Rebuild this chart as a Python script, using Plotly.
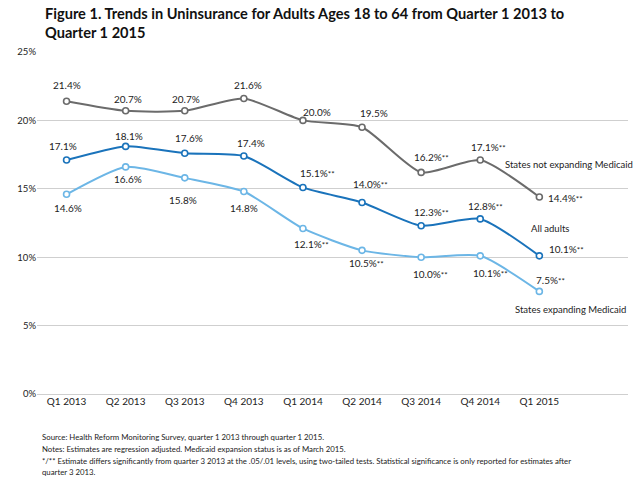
import plotly.graph_objects as go

# ── Data ──────────────────────────────────────────────────────────────────────
QUARTERS = ["Q1 2013", "Q2 2013", "Q3 2013", "Q4 2013", "Q1 2014",
            "Q2 2014", "Q3 2014", "Q4 2014", "Q1 2015"]

NOT_EXPANDING = [21.4, 20.7, 20.7, 21.6, 20.0, 19.5, 16.2, 17.1, 14.4]
ALL_ADULTS = [17.1, 18.1, 17.6, 17.4, 15.1, 14.0, 12.3, 12.8, 10.1]
EXPANDING = [14.6, 16.6, 15.8, 14.8, 12.1, 10.5, 10.0, 10.1, 7.5]

# significance flags ("**" = differs from Q3 2013 at .01)
NOT_EXPANDING_SIG = ["", "", "", "", "", "", "**", "**", "**"]
ALL_ADULTS_SIG = ["", "", "", "", "**", "**", "**", "**", "**"]
EXPANDING_SIG = ["", "", "", "", "**", "**", "**", "**", "**"]

SERIES_NAMES = ["States not expanding Medicaid", "All adults",
                "States expanding Medicaid"]

NOTES = [
    "Source: Health Reform Monitoring Survey, quarter 1 2013 through quarter 1 2015.",
    "Notes: Estimates are regression adjusted. Medicaid expansion status is as of March 2015.",
    "*/** Estimate differs significantly from quarter 3 2013 at the .05/.01 levels, using two-tailed tests. "
    "Statistical significance is only reported for estimates after",
    "quarter 3 2013.",
]

# ── Style ─────────────────────────────────────────────────────────────────────
FONT = "Lato"
TXT = "#222222"
GRAY = "#6b6b6b"
BLUE = "#1a73bb"
LIGHT = "#6cb6e6"

PLOT_TOP, PLOT_BOTTOM = 52, 394   # px of plot area in the 480px page


def paper_y(py):
    return (PLOT_BOTTOM - py) / (PLOT_BOTTOM - PLOT_TOP)


# label nudges in px (x = left edge rel. to point, y = centre rel. to point)
GRAY_DX = [-16, -14, -15, -12, -2, -4, -9, -11, 7]
GRAY_DY = [16, 12, 12, 14, 8, 14, 15, 13, -1]
BLUE_DX = [-20, -13, -12, -9, -5, -11, -9, -14, 8]
BLUE_DY = [14, 10, 15, 13, 14, 18, 14, 13, 7]
LIGHT_DX = [-15, -14, -18, -16, -11, -15, -10, -9, -5]
LIGHT_DY = [-14, -12, -22, -16, -16, -13, -17, -17, 11]

# where the series names sit (data coords)
NAME_X = [7.38, 7.82, 7.55]
NAME_Y = [16.8, 12.13, 6.2]

xs = list(range(len(QUARTERS)))

fig = go.Figure()

for vals, color, name in [(NOT_EXPANDING, GRAY, SERIES_NAMES[0]),
                          (ALL_ADULTS, BLUE, SERIES_NAMES[1]),
                          (EXPANDING, LIGHT, SERIES_NAMES[2])]:
    fig.add_trace(go.Scatter(
        x=xs, y=vals, mode="lines+markers", name=name,
        line=dict(color=color, width=2, shape="spline", smoothing=0.6),
        marker=dict(symbol="circle", size=6, color="white",
                    line=dict(color=color, width=1.6)),
        showlegend=False, hoverinfo="skip",
    ))

annotations = []
for vals, sig, dxs, dys in [(NOT_EXPANDING, NOT_EXPANDING_SIG, GRAY_DX, GRAY_DY),
                            (ALL_ADULTS, ALL_ADULTS_SIG, BLUE_DX, BLUE_DY),
                            (EXPANDING, EXPANDING_SIG, LIGHT_DX, LIGHT_DY)]:
    for x, v, s, dx, dy in zip(xs, vals, sig, dxs, dys):
        txt = f"{v:.1f}%" + (f"<span style='font-size:8px'>{s}</span>" if s else "")
        annotations.append(dict(
            x=x, y=v, xref="x", yref="y", text=txt, showarrow=False,
            xanchor="left", yanchor="middle", xshift=dx, yshift=dy,
            font=dict(family=FONT, size=10, color=TXT),
        ))

for name, x, y in zip(SERIES_NAMES, NAME_X, NAME_Y):
    annotations.append(dict(
        x=x, y=y, xref="x", yref="y", text=name, showarrow=False,
        xanchor="left", yanchor="middle",
        font=dict(family=FONT, size=9.5, color=TXT),
    ))

# title
annotations.append(dict(
    x=6 / 640, y=paper_y(3), xref="paper", yref="paper",
    text="<b>Figure 1. Trends in Uninsurance for Adults Ages 18 to 64 from Quarter 1 2013 to"
         "<br>Quarter 1 2015</b>",
    showarrow=False, xanchor="left", yanchor="top", align="left",
    font=dict(family=FONT, size=14.6, color="#111111"),
))

# footnotes
for i, line in enumerate(NOTES):
    annotations.append(dict(
        x=3 / 640, y=paper_y(437 + 11.8 * i), xref="paper", yref="paper",
        text=line, showarrow=False, xanchor="left", yanchor="middle",
        font=dict(family=FONT, size=7.8, color=TXT),
    ))

fig.update_layout(
    width=640, height=480,
    paper_bgcolor="white", plot_bgcolor="white",
    margin=dict(l=37, r=12, t=PLOT_TOP, b=480 - PLOT_BOTTOM),
    annotations=annotations,
    font=dict(family=FONT, color=TXT),
)

fig.update_xaxes(
    range=[-0.5, 9.5], tickvals=xs, ticktext=QUARTERS,
    showgrid=False, zeroline=False, showline=False, ticks="",
    tickfont=dict(family=FONT, size=10, color=TXT),
)
fig.update_yaxes(
    range=[0, 25], dtick=5, ticksuffix="%",
    showgrid=True, gridcolor="#cfcfcf", gridwidth=1,
    zeroline=True, zerolinecolor="#cfcfcf", zerolinewidth=1,
    showline=False, ticks="",
    tickfont=dict(family=FONT, size=9.5, color=TXT),
)

# page body has a default 8px margin; drop it so the 640x480 figure fits the window
fig.write_html("out.html", config={"displayModeBar": False},
               post_script="document.body.style.margin='0';")
